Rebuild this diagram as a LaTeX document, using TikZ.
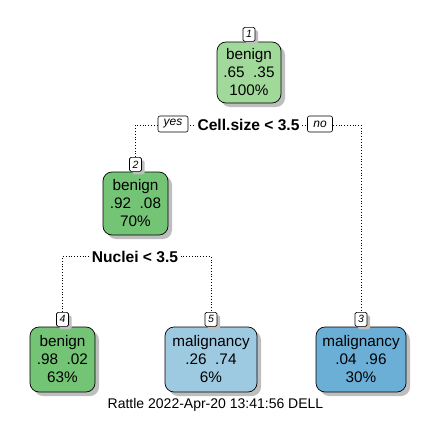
\documentclass[tikz,border=0pt]{standalone}
\usepackage{fontspec}
\setmainfont{Liberation Sans}
\usetikzlibrary{shadows,backgrounds}
\definecolor{gA}{RGB}{161,217,155}
\definecolor{gB}{RGB}{116,196,118}
\definecolor{bA}{RGB}{158,202,225}
\definecolor{bB}{RGB}{107,174,214}
\definecolor{shd}{RGB}{190,190,190}
\tikzset{
  leaf/.style={draw=black, line width=0.7pt, rounded corners=9pt, align=center,
    inner sep=0pt, font=\fontsize{15.3}{18}\selectfont,
    drop shadow={shadow xshift=4pt, shadow yshift=-4pt, fill=shd, opacity=1}},
  lab/.style={draw=black, line width=0.6pt, fill=white, rounded corners=1.5pt,
    inner sep=0pt, minimum width=12pt, minimum height=14pt,
    font=\fontsize{10.5}{10.5}\selectfont\itshape,
    drop shadow={shadow xshift=3pt, shadow yshift=-3pt, fill=shd, opacity=1}},
  yn/.style={draw=black, line width=0.6pt, fill=white, rounded corners=2pt,
    inner sep=0pt, minimum height=16pt, font=\fontsize{12}{12}\selectfont\itshape},
  splittxt/.style={fill=white, inner sep=1.5pt, font=\fontsize{15.6}{15.6}\selectfont\bfseries},
  conn/.style={dotted, line width=0.8pt}
}
\begin{document}
\begin{tikzpicture}[x=1pt,y=-1pt]
\useasboundingbox (0,0) rectangle (433,420);
% nodes
\node[leaf, fill=gA, minimum width=64pt, minimum height=61pt] (n1) at (249,72.5) {benign\\.65\ \ .35\\100\%};
\node[lab, anchor=south] (l1) at (n1.north) {1};
\node[leaf, fill=gB, minimum width=65pt, minimum height=63pt] (n2) at (135.5,203.5) {benign\\.92\ \ .08\\70\%};
\node[lab, anchor=south] (l2) at (n2.north) {2};
\node[leaf, fill=gB, minimum width=65pt, minimum height=65pt] (n4) at (62.5,359.5) {benign\\.98\ \ .02\\63\%};
\node[lab, anchor=south] (l4) at (n4.north) {4};
\node[leaf, fill=bA, minimum width=92pt, minimum height=65pt] (n5) at (211,359.5) {malignancy\\.26\ \ .74\\6\%};
\node[lab, anchor=south] (l5) at (n5.north) {5};
\node[leaf, fill=bB, minimum width=90pt, minimum height=65pt] (n3) at (361,359.5) {malignancy\\.04\ \ .96\\30\%};
\node[lab, anchor=south] (l3) at (n3.north) {3};
% splits
\node[splittxt] (s1) at (248.5,125) {Cell.size < 3.5};
\node[yn, minimum width=30pt] (yes) at (173,124) {yes};
\node[yn, minimum width=25pt] (no) at (320,124) {no};
\node[splittxt] (s2) at (135,256.5) {Nuclei < 3.5};
\begin{scope}[on background layer]
\draw[conn] (l2.north) |- (s1.center) -| (l3.north);
\draw[conn] (l4.north) |- (s2.center) -| (l5.north);
\end{scope}
\node[font=\fontsize{14}{14}\selectfont] (foot) at (215.5,404.5) {Rattle 2022-Apr-20 13:41:56 DELL};
\end{tikzpicture}
\end{document}
